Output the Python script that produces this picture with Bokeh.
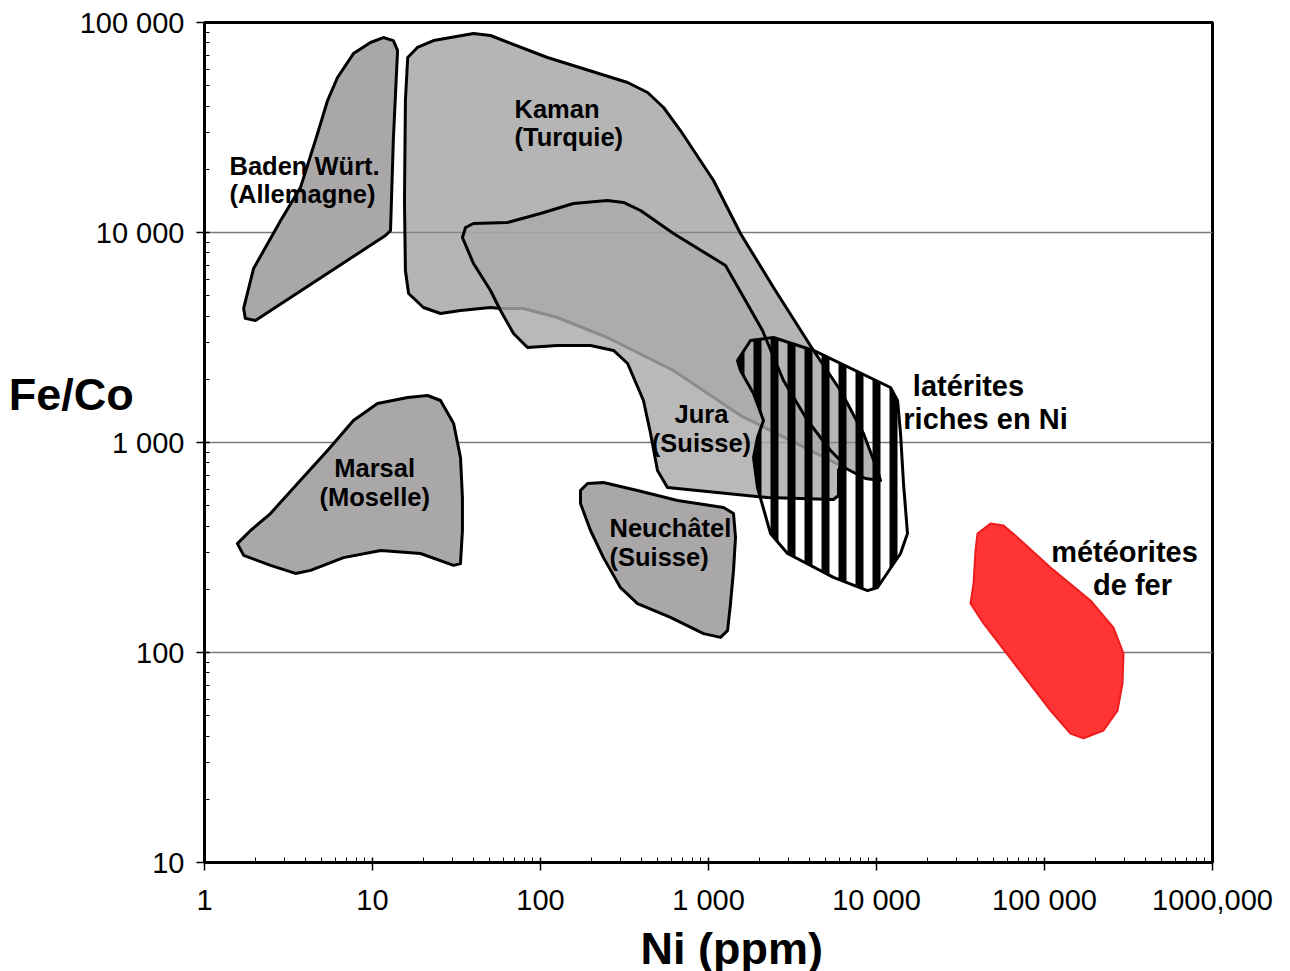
from bokeh.plotting import figure
from bokeh.models import Range1d, FixedTicker, CustomJSTickFormatter, Label, Title
from bokeh.embed import file_html
from bokeh.resources import INLINE

# ---- tick labels ----
x_tick_labels = ["1", "10", "100", "1 000", "10 000", "100 000", "1000,000"]
y_tick_labels = ["10", "100", "1 000", "10 000", "100 000"]

# ---- fields (Ni ppm, Fe/Co) ----
baden_ni = [11.6, 13.3, 14.1, 13.3, 12.8, 11.95, 2.01, 1.75, 1.71, 1.96, 2.84, 3.73, 4.71, 5.40, 6.19, 7.70, 9.73]
baden_feco = [84800, 82000, 73600, 27400, 10200, 9680, 3810, 3900, 4350, 6740, 11400, 16400, 29600, 42500, 54700, 71100, 80300]

kaman_ni = [16.2, 18.5, 23.1, 39.9, 50.4, 110, 330, 434, 540, 681, 1071, 1550, 2437, 4217, 6105, 8367, 10140, 10560,
            8600, 5323, 3528, 1550, 619, 250, 126, 79.2, 57.8, 50.4, 33.4, 25.4, 20.1, 16.4, 15.7, 15.5, 15.7]
kaman_feco = [68130, 76030, 82080, 88630, 86700, 68130, 51800, 46420, 39380, 30590, 17680, 9890, 5472, 2743, 1768, 1104,
              736, 659, 674, 821, 968, 1345, 2202, 3162, 3938, 4345, 4345, 4394, 4252, 4114, 4394, 5122, 6592, 14200, 42520]

jura_ni = [35.8, 39.9, 63.6, 100, 157, 250, 312, 394, 619, 1263, 2096, 2795, 3885, 5323, 6275, 5940, 5940, 5546, 2245,
           570, 497, 452, 410, 330, 272, 198.5, 126, 83.7, 69.1, 57.8, 50.4, 39.9, 34.3]
jura_feco = [10560, 11040, 11160, 12320, 13750, 14200, 13900, 12730, 9890, 6964, 3415, 1974, 1273, 916, 803, 736, 559,
             535, 547, 610, 736, 1104, 1585, 2378, 2743, 2896, 2896, 2833, 3304, 4252, 5294, 7118, 9467]

lat_ni = [1550, 1488, 1778, 2437, 4217, 12120, 13340, 13900, 14480, 15290, 13900, 10140, 8842, 5546, 2953, 2339, 1957,
          1853, 1957, 2125, 1853]
lat_feco = [2202, 2458, 3059, 3162, 2743, 1828, 1585, 1104, 638, 369, 296, 204, 197, 228, 296, 369, 610, 848, 1056, 1273, 1711]

marsal_ni = [1.57, 1.88, 2.47, 3.58, 5.40, 7.70, 10.7, 16.2, 21.3, 25.4, 30.4, 33.4, 34.3, 34.3, 33.4, 30.4, 19.3, 11.2,
             6.72, 4.28, 3.48, 2.47, 1.71]
marsal_feco = [330, 381, 459, 638, 916, 1273, 1533, 1638, 1674, 1585, 1232, 848, 547, 381, 265, 260, 296, 306, 283, 246,
               238, 260, 290]

neu_ni = [173, 190.5, 237, 378, 654, 1228, 1409, 1448, 1409, 1352, 1298, 1179, 934, 594, 378, 299, 237, 198.5, 173]
neu_feco = [591, 638, 645, 591, 529, 490, 459, 353, 246, 171, 127, 118, 123, 147, 171, 204, 283, 381, 512]

met_ni = [39930, 47710, 57020, 69080, 108600, 187800, 257500, 295300, 291300, 272000, 224500, 170700, 142800, 108600,
          69080, 43350, 36260, 37800, 38850]
met_feco = [369, 411, 402, 353, 254, 177, 131.5, 98.9, 71.2, 52.9, 42.5, 39.0, 41.1, 52.9, 84.8, 137.5, 171, 213, 306]

FONT = "Liberation Sans"

p = figure(x_axis_type="log", y_axis_type="log",
           x_range=Range1d(1, 1e6), y_range=Range1d(10, 1e5),
           frame_width=1008, frame_height=840,
           min_border_left=204, min_border_right=70, min_border_top=22, min_border_bottom=100,
           output_backend="svg", toolbar_location=None, background_fill_color="white")

p.outline_line_color = "black"
p.outline_line_width = 3
p.xgrid.visible = False
p.ygrid.grid_line_color = "#7a7a7a"
p.ygrid.grid_line_width = 1.5

major_x = [10 ** e for e in range(0, 7)]
minor_x = [m * 10 ** e for e in range(0, 6) for m in range(2, 10)]
major_y = [10 ** e for e in range(1, 6)]
minor_y = [m * 10 ** e for e in range(1, 5) for m in range(2, 10)]
p.xaxis.ticker = FixedTicker(ticks=major_x, minor_ticks=minor_x)
p.yaxis.ticker = FixedTicker(ticks=major_y, minor_ticks=minor_y)
p.ygrid.ticker = FixedTicker(ticks=major_y)
p.xaxis.formatter = CustomJSTickFormatter(args=dict(labels=x_tick_labels),
                                          code="return labels[Math.round(Math.log10(tick))];")
p.yaxis.formatter = CustomJSTickFormatter(args=dict(labels=y_tick_labels),
                                          code="return labels[Math.round(Math.log10(tick)) - 1];")
for ax in (p.xaxis, p.yaxis):
    ax.axis_line_width = 3
    ax.axis_line_color = "black"
    ax.major_tick_line_color = "black"
    ax.major_tick_line_width = 1.5
    ax.major_tick_in = 5
    ax.major_tick_out = 8
    ax.minor_tick_line_color = "black"
    ax.minor_tick_line_width = 1
    ax.minor_tick_in = 5
    ax.minor_tick_out = 0
    ax.major_label_text_font = FONT
    ax.major_label_text_font_size = "29px"
    ax.major_label_text_color = "black"
p.xaxis.major_label_standoff = 13
p.yaxis.major_label_standoff = 12

# y axis title: horizontal, raised above the 1 000 tick
p.yaxis.axis_label = "Fe/Co\n\n"
p.yaxis.axis_label_orientation = "horizontal"
p.yaxis.axis_label_text_font = FONT
p.yaxis.axis_label_text_font_style = "bold"
p.yaxis.axis_label_text_font_size = "45px"
p.yaxis.axis_label_text_line_height = 0.95
p.yaxis.axis_label_text_color = "black"
p.yaxis.axis_label_standoff = -57

# x axis title
p.add_layout(Title(text="Ni (ppm)", align="left", offset=436, standoff=4, text_font=FONT,
                   text_font_style="bold", text_font_size="45px", text_color="black"), "below")

# polygons
p.patch(kaman_ni, kaman_feco, fill_color="#8e8e8e", fill_alpha=0.65, line_color="black", line_width=3, line_join="round")
p.patch(jura_ni, jura_feco, fill_color="#aaaaaa", fill_alpha=0.82, line_color="black", line_width=3, line_join="round")
p.patch(baden_ni, baden_feco, fill_color="#aaa7a8", line_color="black", line_width=3, line_join="round")
p.patch(marsal_ni, marsal_feco, fill_color="#aaa7a8", line_color="black", line_width=3, line_join="round")
p.patch(neu_ni, neu_feco, fill_color="#aaa7a8", line_color="black", line_width=3, line_join="round")
p.patch(lat_ni, lat_feco, fill_alpha=0, hatch_pattern="|", hatch_color="black", hatch_scale=17, hatch_weight=8,
        line_color="black", line_width=3, line_join="round")
p.patch(met_ni, met_feco, fill_color="#ff3535", line_color="#ee1c1c", line_width=2, line_join="round")

# texts
labels = [
    ("Baden Würt.", 1.409, 20840, "left", 25.5),
    ("(Allemagne)", 1.409, 15170, "left", 25.5),
    ("Kaman", 70, 38930, "left", 25.5),
    ("(Turquie)", 70, 28340, "left", 25.5),
    ("Marsal", 10.3, 760, "center", 25.5),
    ("(Moselle)", 10.3, 553, "center", 25.5),
    ("Jura", 908, 1374, "center", 25.5),
    ("(Suisse)", 908, 1000, "center", 25.5),
    ("Neuchâtel", 257.5, 389.5, "left", 25.5),
    ("(Suisse)", 257.5, 283.4, "left", 25.5),
    ("latérites", 35280, 1868, "center", 29),
    ("riches en Ni", 44550, 1287, "center", 29),
    ("météorites", 299300, 299.5, "center", 29),
    ("de fer", 334100, 208.5, "center", 29),
]
for t, x, y, al, sz in labels:
    p.add_layout(Label(x=x, y=y, text=t, text_align=al, text_baseline="middle", text_font=FONT,
                       text_font_style="bold", text_font_size=f"{sz}px", text_color="black"))

open("out.html", "w").write(file_html(p, INLINE))
